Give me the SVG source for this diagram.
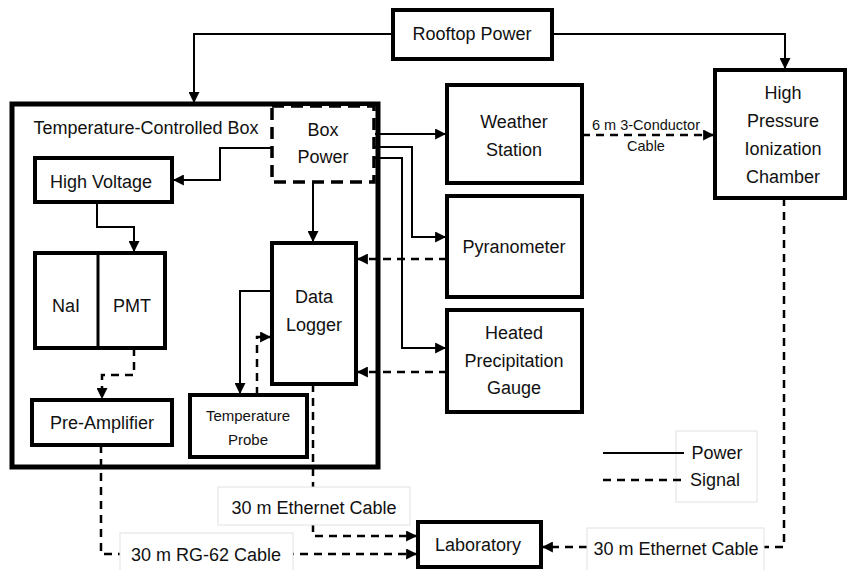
<svg xmlns="http://www.w3.org/2000/svg" width="848" height="570" viewBox="0 0 848 570">
<defs>
<marker id="ah" viewBox="0 0 10 10" refX="9" refY="5" markerWidth="11" markerHeight="11" markerUnits="userSpaceOnUse" orient="auto">
<path d="M0,0 L10,5 L0,10 z" fill="#000"/>
</marker>
</defs>
<style>
text{font-family:"Liberation Sans",Arial,sans-serif;font-size:18px;fill:#111;text-anchor:middle;dominant-baseline:central}
.box{fill:#fff;stroke:#000;stroke-width:4}
.lbl{fill:#fff;stroke:#e2e2e2;stroke-width:1}
.pw{fill:none;stroke:#000;stroke-width:2}
.sg{fill:none;stroke:#000;stroke-width:2.5;stroke-dasharray:8 6}
.sm{font-size:15px}
.xs{font-size:14.5px}
</style>
<rect width="848" height="570" fill="#fff"/>

<g id="rooftop"><rect class="box" x="393" y="10" width="159" height="49"/><text x="472" y="34">Rooftop Power</text></g>

<g id="tcb"><rect x="12" y="104" width="366" height="363" fill="#fff" stroke="#000" stroke-width="5"/><text x="146" y="128">Temperature-Controlled Box</text></g>

<g id="boxpower"><rect x="272" y="106" width="102" height="76" fill="#fff" stroke="#000" stroke-width="3.5" stroke-dasharray="12 7"/><text x="323" y="130">Box</text><text x="323" y="157">Power</text></g>

<g id="hv"><rect class="box" x="35" y="158" width="137" height="44"/><text x="101" y="182">High Voltage</text></g>

<g id="nai"><rect class="box" x="35" y="253" width="130" height="95"/><line x1="98" y1="253" x2="98" y2="348" stroke="#000" stroke-width="3"/><text x="66" y="306">NaI</text><text x="132" y="306">PMT</text></g>

<g id="preamp"><rect class="box" x="32" y="400" width="140" height="45"/><text x="102" y="423">Pre-Amplifier</text></g>

<g id="tprobe"><rect class="box" x="190" y="395" width="117" height="62"/><text class="sm" x="248" y="415">Temperature</text><text class="sm" x="248" y="439">Probe</text></g>

<g id="logger"><rect class="box" x="272" y="243" width="84" height="141"/><text x="314" y="297">Data</text><text x="314" y="325">Logger</text></g>

<g id="weather"><rect class="box" x="447" y="85" width="135" height="98"/><text x="514" y="122">Weather</text><text x="514" y="150">Station</text></g>

<g id="pyra"><rect class="box" x="447" y="196" width="135" height="101"/><text x="514" y="247">Pyranometer</text></g>

<g id="hpg"><rect class="box" x="447" y="310" width="135" height="102"/><text x="514" y="333">Heated</text><text x="514" y="361">Precipitation</text><text x="514" y="388">Gauge</text></g>

<g id="hpic"><rect class="box" x="715" y="70" width="130" height="128"/><text x="783" y="93">High</text><text x="783" y="121">Pressure</text><text x="783" y="149">Ionization</text><text x="783" y="177">Chamber</text></g>

<g id="lab"><rect class="box" x="418" y="522" width="123" height="45"/><text x="478" y="545">Laboratory</text></g>

<g id="connectors">
<path class="pw" d="M393,34 H194 V102" marker-end="url(#ah)"/>
<path class="pw" d="M552,34 H785 V68" marker-end="url(#ah)"/>
<path class="pw" d="M272,148 H220 V180 H174" marker-end="url(#ah)"/>
<path class="pw" d="M97,202 V227 H134 V251" marker-end="url(#ah)"/>
<path class="pw" d="M313,183 V241" marker-end="url(#ah)"/>
<path class="pw" d="M272,291 H240 V393" marker-end="url(#ah)"/>
<path class="sg" d="M257,395 V337 H270" marker-end="url(#ah)"/>
<path class="sg" d="M134,348 V375 H102 V398" marker-end="url(#ah)"/>
<path class="pw" d="M375,134 H445" marker-end="url(#ah)"/>
<path class="pw" d="M375,147 H412 V237 H445" marker-end="url(#ah)"/>
<path class="pw" d="M375,158 H402 V348 H445" marker-end="url(#ah)"/>
<path class="sg" d="M447,259 H358" marker-end="url(#ah)"/>
<path class="sg" d="M447,372 H358" marker-end="url(#ah)"/>
<path class="sg" d="M582,135 H713" marker-end="url(#ah)"/>
<path class="sg" d="M313,384 V536 H416" marker-end="url(#ah)"/>
<path class="sg" d="M101,445 V554 H416" marker-end="url(#ah)"/>
<path class="sg" d="M784,198 V547 H543" marker-end="url(#ah)"/>
</g>

<g id="labels">
<text class="xs" x="646" y="125">6 m 3-Conductor</text>
<text class="xs" x="646" y="146">Cable</text>
<rect class="lbl" x="218" y="487" width="192" height="38"/><text x="314" y="508">30 m Ethernet Cable</text>
<rect class="lbl" x="120" y="533" width="173" height="40"/><text x="206" y="555">30 m RG-62 Cable</text>
<rect class="lbl" x="587" y="528" width="177" height="45"/><text x="676" y="549">30 m Ethernet Cable</text>
</g>

<g id="legend">
<rect class="lbl" x="676" y="431" width="81" height="71"/>
<line x1="603" y1="453" x2="684" y2="453" stroke="#000" stroke-width="2"/>
<line x1="603" y1="480" x2="686" y2="480" stroke="#000" stroke-width="2.5" stroke-dasharray="8 6"/>
<text x="717" y="453">Power</text>
<text x="715" y="480">Signal</text>
</g>
</svg>
